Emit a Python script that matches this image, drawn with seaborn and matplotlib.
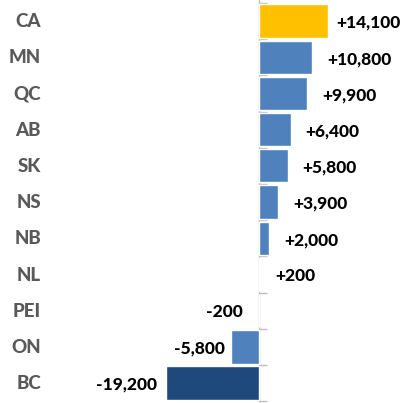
import numpy as np
import pandas as pd
import matplotlib
matplotlib.use("Agg")
import matplotlib.pyplot as plt
import matplotlib.transforms as mtransforms
import seaborn as sns

regions = ["CA", "MN", "QC", "AB", "SK", "NS", "NB", "NL", "PEI", "ON", "BC"]
values = [14100, 10800, 9900, 6400, 5800, 3900, 2000, 200, -200, -5800, -19200]
labels = ["+14,100", "+10,800", "+9,900", "+6,400", "+5,800", "+3,900", "+2,000", "+200", "-200", "-5,800", "-19,200"]
bar_colors = ["#FFC000"] + ["#4F81BD"] * 9 + ["#1F497D"]
label_pad = [8, 15, 15, 15, 15, 15, 15, 15, 16, 6, 9]  # px gap between bar end and label

sns.set_theme(style="white")
plt.rcParams["font.family"] = ["Lato", "DejaVu Sans"]

df = pd.DataFrame({"region": regions, "value": values})

fig = plt.figure(figsize=(4.04, 4.03), dpi=100)
ax = fig.add_axes([0, 0, 1, 1])
sns.barplot(data=df, x="value", y="region", hue="region", palette=bar_colors,
            legend=False, orient="h", width=0.92, ax=ax, saturation=1)

xmin, xmax = -53500, 29800
ax.set_xlim(xmin, xmax)
ax.set_ylim(10.55, -0.58)
for s in ax.spines.values():
    s.set_visible(False)
ax.set_xticks([])
ax.set_yticks([])
ax.set_xlabel("")
ax.set_ylabel("")

# category labels
trans = mtransforms.blended_transform_factory(ax.transAxes, ax.transData)
for i, r in enumerate(regions):
    ax.text(41 / 404, i + 0.02, r, transform=trans, ha="right", va="center",
            fontsize=13.5, fontweight="black", color="#595959")

# value labels
for i, (v, lab, pad) in enumerate(zip(values, labels, label_pad)):
    off = mtransforms.offset_copy(ax.transData, fig=fig, x=(pad if v >= 0 else -pad) * 72 / 100, y=0, units="points")
    ax.text(v, i + 0.05, lab, transform=off, ha="left" if v >= 0 else "right",
            va="center", fontsize=12.5, fontweight="black", color="black")

# axis line at zero with category boundary ticks
ax.axvline(0, color="#BFBFBF", lw=1, zorder=0.5)
frac = (0 - xmin) / (xmax - xmin)
sec = ax.secondary_yaxis(frac)
sec.set_yticks(np.arange(-0.5, len(regions), 1.0))
sec.set_yticklabels([])
sec.tick_params(axis="y", length=6, width=1, color="#BFBFBF", direction="out")
for k in ["left", "right", "top", "bottom"]:
    sec.spines[k].set_visible(False)

fig.savefig("out.png", dpi=100)
